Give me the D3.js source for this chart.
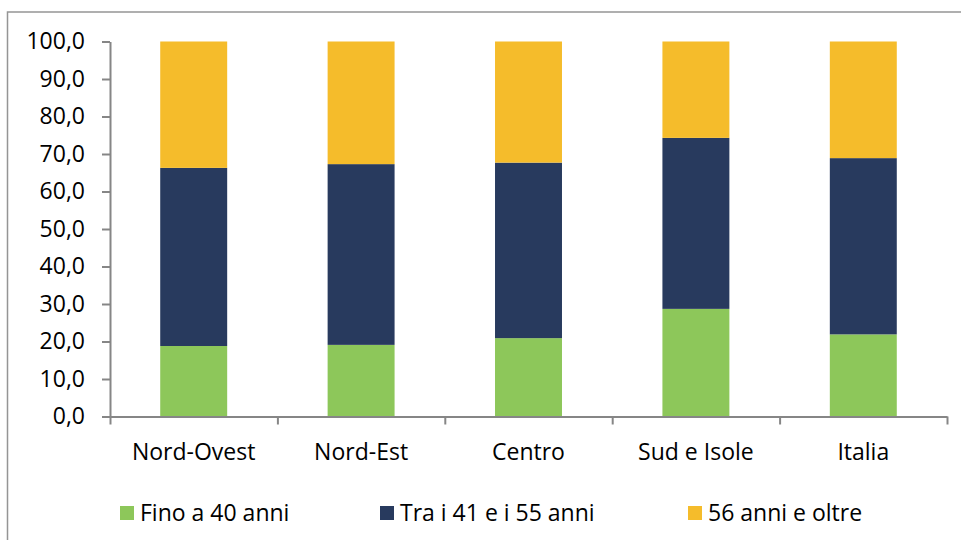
<!DOCTYPE html>
<html>
<head>
<meta charset="utf-8">
<script src="https://cdn.jsdelivr.net/npm/d3@7"></script>
<style>
  body { margin: 0; background: #fff; }
  svg text { font-family: "Open Sans", "Liberation Sans", Arial, sans-serif; fill: #000; }
</style>
</head>
<body>
<div id="chart"></div>
<script>
// dati (valori percentuali)
var categorie = ["Nord-Ovest", "Nord-Est", "Centro", "Sud e Isole", "Italia"];
var serie = ["Fino a 40 anni", "Tra i 41 e i 55 anni", "56 anni e oltre"];
var fino40 = [18.8, 19.1, 20.9, 28.7, 21.9];
var tra41e55 = [47.5, 48.2, 46.8, 45.6, 47.0];
var oltre56 = [33.7, 32.7, 32.3, 25.7, 31.1];
var yTicks = [0, 10, 20, 30, 40, 50, 60, 70, 80, 90, 100];
var colori = ["#8dc75a", "#283a5e", "#f5bc2b"];

var width = 961, height = 540;
var margin = {top: 41.5, left: 110, right: 14, bottom: 123.5};
var w = width - margin.left - margin.right,
    h = height - margin.top - margin.bottom;
var fontSize = "23px";

var svg = d3.select("#chart").append("svg")
    .attr("width", width)
    .attr("height", height);

// bordo dell'area grafico
svg.append("rect")
    .attr("x", 7.5).attr("y", 12)
    .attr("width", width + 10).attr("height", height + 10)
    .style("fill", "none")
    .style("stroke", "#959595")
    .style("stroke-width", 1.5);

var g = svg.append("g")
    .attr("transform", "translate(" + margin.left + "," + margin.top + ")");

var data = categorie.map(function(c, i) {
    return {cat: c, "Fino a 40 anni": fino40[i], "Tra i 41 e i 55 anni": tra41e55[i], "56 anni e oltre": oltre56[i]};
});

var stack = d3.stack().keys(serie);
var stacked = stack(data);

var x = d3.scaleBand().domain(categorie).range([0, w]).paddingInner(0.6).paddingOuter(0.3);
var y = d3.scaleLinear().domain([0, 100]).range([h, 0]);

// barre
g.selectAll(".serie")
    .data(stacked)
    .enter().append("g")
    .attr("class", "serie")
    .style("fill", function(d, i) { return colori[i]; })
    .selectAll("rect")
    .data(function(d) { return d; })
    .enter().append("rect")
        .attr("x", function(d) { return x(d.data.cat); })
        .attr("y", function(d) { return y(Math.min(d[1], 100)); })
        .attr("width", x.bandwidth())
        .attr("height", function(d) { return y(d[0]) - y(Math.min(d[1], 100)); });

// asse y
var fmt = function(d) { return d3.format(".1f")(d).replace(".", ","); };
var yAxis = g.append("g")
    .attr("class", "axis")
    .call(d3.axisLeft(y).tickValues(yTicks).tickFormat(fmt).tickSize(8).tickSizeOuter(0).tickPadding(17));

// asse x (tacche tra le categorie)
var xLine = d3.scaleLinear().domain([0, categorie.length]).range([0, w]);
var xAxis = g.append("g")
    .attr("class", "axis")
    .attr("transform", "translate(0," + h + ")")
    .call(d3.axisBottom(xLine).ticks(categorie.length).tickFormat("").tickSize(8).tickSizeOuter(0));

g.selectAll(".axis path, .axis line")
    .style("stroke", "#868686")
    .style("stroke-width", 2);
yAxis.selectAll("text").style("font-size", fontSize);

g.selectAll(".catLabel")
    .data(categorie)
    .enter().append("text")
        .attr("class", "catLabel")
        .attr("x", function(d) { return x(d) + x.bandwidth() / 2; })
        .attr("y", h + 35)
        .attr("dy", "0.35em")
        .style("text-anchor", "middle")
        .style("font-size", fontSize)
        .text(function(d) { return d; });

// legenda
var legX = [120, 380, 688];
var leg = svg.selectAll(".leg")
    .data(serie)
    .enter().append("g")
    .attr("class", "leg")
    .attr("transform", function(d, i) { return "translate(" + legX[i] + ",506)"; });

leg.append("rect")
    .attr("width", 14).attr("height", 14)
    .style("fill", function(d, i) { return colori[i]; });

leg.append("text")
    .attr("x", 20)
    .attr("y", 7)
    .attr("dy", "0.35em")
    .style("font-size", fontSize)
    .text(function(d) { return d; });
</script>
</body>
</html>
